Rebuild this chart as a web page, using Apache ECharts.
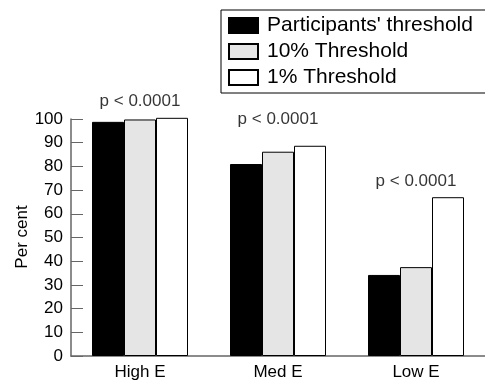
<!DOCTYPE html>
<html>
<head>
<meta charset="utf-8">
<script src="https://cdn.jsdelivr.net/npm/echarts@6/dist/echarts.min.js"></script>
<style>html,body{margin:0;padding:0;background:#fff}#c{width:485px;height:381px}</style>
</head>
<body>
<div id="c"></div>
<script>
const categories = ['High E', 'Med E', 'Low E'];
const participants = [98.8, 81.0, 34.2];
const tenPct = [99.8, 86.2, 37.5];
const onePct = [100.5, 88.7, 67.0];
const pText = ['p < 0.0001', 'p < 0.0001', 'p < 0.0001'];
const pLabelY = [107.3, 99.7, 73.9];
const yTicks = [0, 10, 20, 30, 40, 50, 60, 70, 80, 90, 100];
const yTitle = 'Per cent';

const FONT = 'Liberation Sans';
const chart = echarts.init(document.getElementById('c'), null, {renderer: 'canvas'});
chart.setOption({
  animation: false,
  textStyle: {fontFamily: FONT, color: '#000'},
  grid: {left: 71, right: -1, top: 119, bottom: 25, containLabel: false},
  graphic: [{
    type: 'text', x: 22, y: 237, rotation: Math.PI / 2,
    style: {text: yTitle, font: '17px "Liberation Sans"', fill: '#000',
      textAlign: 'center', textVerticalAlign: 'middle'}
  }],
  legend: {
    data: ["Participants' threshold", '10% Threshold', '1% Threshold'],
    icon: 'rect',
    orient: 'vertical',
    left: 221, top: 10,
    padding: [5, 40, 5, 7],
    itemGap: 5,
    itemWidth: 29, itemHeight: 15,
    borderColor: '#000', borderWidth: 1,
    textStyle: {fontFamily: FONT, fontSize: 21, color: '#000', padding: [0, 0, 0, 4]}
  },
  xAxis: {
    type: 'category',
    data: categories,
    axisLine: {lineStyle: {color: '#666', width: 1.5}},
    axisTick: {inside: true, length: 13, lineStyle: {color: '#000'}, interval: 0},
    axisLabel: {fontSize: 17, color: '#000', margin: 8, fontFamily: FONT}
  },
  yAxis: {
    type: 'value', min: 0, max: 100, interval: 10,
    axisLine: {show: true, lineStyle: {color: '#666', width: 1.5}},
    axisTick: {show: true, inside: true, length: 12, lineStyle: {color: '#666'}},
    axisLabel: {fontSize: 17, color: '#000', margin: 8, fontFamily: FONT,
      formatter: v => yTicks.includes(v) ? String(v) : ''},
    splitLine: {show: false}
  },
  series: [
    {name: "Participants' threshold", type: 'bar', data: participants, barWidth: 32, barGap: '0%',
      itemStyle: {color: '#000', borderColor: '#000', borderWidth: 1}},
    {name: '10% Threshold', type: 'bar', data: tenPct, barWidth: 32, barGap: '0%',
      itemStyle: {color: '#e5e5e5', borderColor: '#000', borderWidth: 1}},
    {name: '1% Threshold', type: 'bar', data: onePct, barWidth: 32, barGap: '0%', clip: false,
      itemStyle: {color: '#fff', borderColor: '#000', borderWidth: 1}},
    {name: 'p', type: 'scatter', data: pLabelY, symbolSize: 0, clip: false,
      label: {show: true, position: 'inside', fontSize: 17, color: '#000', fontFamily: FONT,
        formatter: p => pText[p.dataIndex]}}
  ]
});
</script>
</body>
</html>
